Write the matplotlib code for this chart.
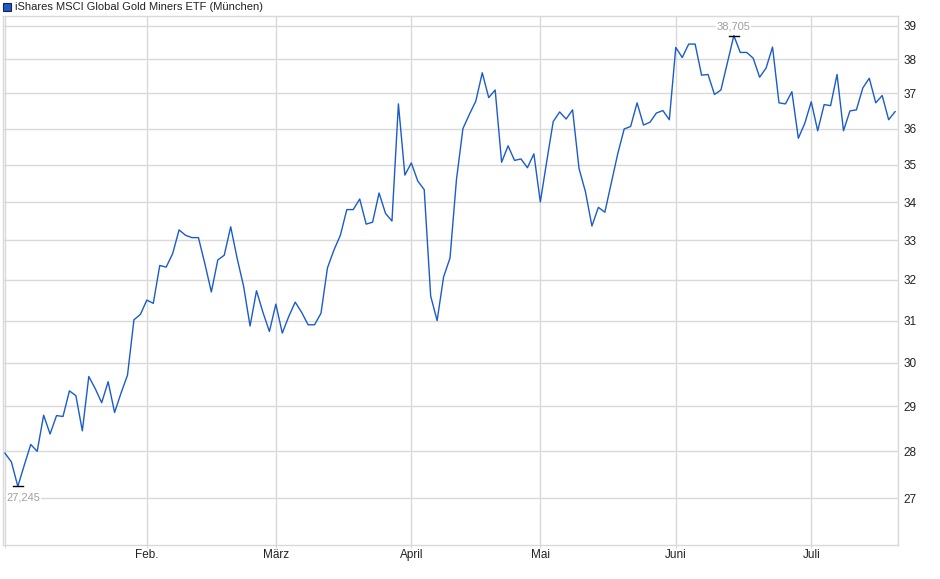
import matplotlib.pyplot as plt
from matplotlib.patches import Rectangle
from matplotlib.ticker import FixedLocator, NullLocator

plt.rcParams['font.family'] = ['Liberation Sans', 'DejaVu Sans']

titel = 'iShares MSCI Global Gold Miners ETF (München)'

# Schlusskurse je Handelstag (Jan. bis Mitte Juli)
kurs = [
    27.96, 27.77, 27.245, 27.7, 28.15, 28.0, 28.8, 28.38, 28.79, 28.77,
    29.35, 29.24, 28.45, 29.68, 29.4, 29.08, 29.56, 28.86, 29.3, 29.71,
    31.02, 31.15, 31.5, 31.42, 32.36, 32.32, 32.66, 33.27, 33.13, 33.07,
    33.07, 32.4, 31.7, 32.5, 32.62, 33.35, 32.54, 31.84, 30.87, 31.73,
    31.2, 30.74, 31.4, 30.7, 31.1, 31.45, 31.2, 30.9, 30.9, 31.18,
    32.3, 32.75, 33.13, 33.8, 33.8, 34.08, 33.42, 33.47, 34.24, 33.7,
    33.5, 36.7, 34.72, 35.05, 34.56, 34.33, 31.6, 31.0, 32.07, 32.55,
    34.6, 36.0, 36.4, 36.78, 37.6, 36.88, 37.1, 35.07, 35.52, 35.12,
    35.16, 34.92, 35.3, 34.0, 35.1, 36.2, 36.47, 36.27, 36.53, 34.9,
    34.27, 33.37, 33.86, 33.73, 34.5, 35.3, 35.99, 36.06, 36.73, 36.1,
    36.18, 36.44, 36.51, 36.25, 38.35, 38.05, 38.45, 38.45, 37.53, 37.55,
    36.97, 37.1, 37.9, 38.705, 38.2, 38.2, 38.03, 37.47, 37.74, 38.36,
    36.73, 36.7, 37.05, 35.73, 36.15, 36.76, 35.94, 36.68, 36.65, 37.55,
    35.94, 36.5, 36.53, 37.16, 37.44, 36.73, 36.94, 36.25, 36.48,
]

# Index des ersten Handelstags im Monat
monat_pos = [0, 22, 42, 63, 83, 104, 125]
monat_namen = ['', 'Feb.', 'März', 'April', 'Mai', 'Juni', 'Juli']
y_ticks = [27, 28, 29, 30, 31, 32, 33, 34, 35, 36, 37, 38, 39]

grau = '#d9d9d9'
blau = '#1a5cc8'

fig = plt.figure(figsize=(9.4, 5.79), dpi=100)
ax = fig.add_axes([3 / 940, 1 - 545 / 579, 895 / 940, 529 / 579])

tage = list(range(len(kurs)))
ax.plot(tage, kurs, color=blau, linewidth=1.0, zorder=3)

ax.set_yscale('log')
ax.set_ylim(26.03, 39.3)
ax.set_xlim(-0.3, 138.45)

ax.yaxis.set_major_locator(FixedLocator(y_ticks))
ax.yaxis.set_minor_locator(NullLocator())
ax.set_yticklabels([str(t) for t in y_ticks])
ax.yaxis.tick_right()
ax.set_xticks(monat_pos)
ax.set_xticklabels(monat_namen)
ax.xaxis.set_minor_locator(NullLocator())

ax.tick_params(axis='y', length=0, pad=4, labelsize=8.5, colors='#222222')
ax.tick_params(axis='x', length=2.5, color=grau, pad=0.5, labelsize=8.5, colors='#222222')
ax.grid(True, color=grau, linewidth=1)
for s in ax.spines.values():
    s.set_color(grau)
    s.set_linewidth(1)

# Tiefst- und Hochpunkt markieren
i_min = kurs.index(min(kurs))
i_max = kurs.index(max(kurs))
for i in (i_min, i_max):
    ax.plot([i - 0.75, i + 0.75], [kurs[i], kurs[i]], color='black', linewidth=1, zorder=4)
ax.annotate(f'{kurs[i_min]:.3f}'.replace('.', ','), (i_min, kurs[i_min]),
            xytext=(4, -8), textcoords='offset points', ha='center', va='center',
            fontsize=8, color='#a0a0a0', zorder=5,
            bbox=dict(facecolor='white', edgecolor='none', pad=0.5))
ax.annotate(f'{kurs[i_max]:.3f}'.replace('.', ','), (i_max, kurs[i_max]),
            xytext=(0, 6.5), textcoords='offset points', ha='center', va='center',
            fontsize=8, color='#a0a0a0', zorder=5,
            bbox=dict(facecolor='white', edgecolor='none', pad=0.5))

# Titel mit Farbmarke
fig.patches.append(Rectangle((3 / 940, 1 - 11 / 579), 8 / 940, 8 / 579,
                             transform=fig.transFigure, facecolor=blau,
                             edgecolor='#222244', linewidth=0.8))
fig.text(15 / 940, 1 - 6.5 / 579, titel, fontsize=8, va='center', ha='left', color='#222222')

fig.savefig('out.png', dpi=100)
